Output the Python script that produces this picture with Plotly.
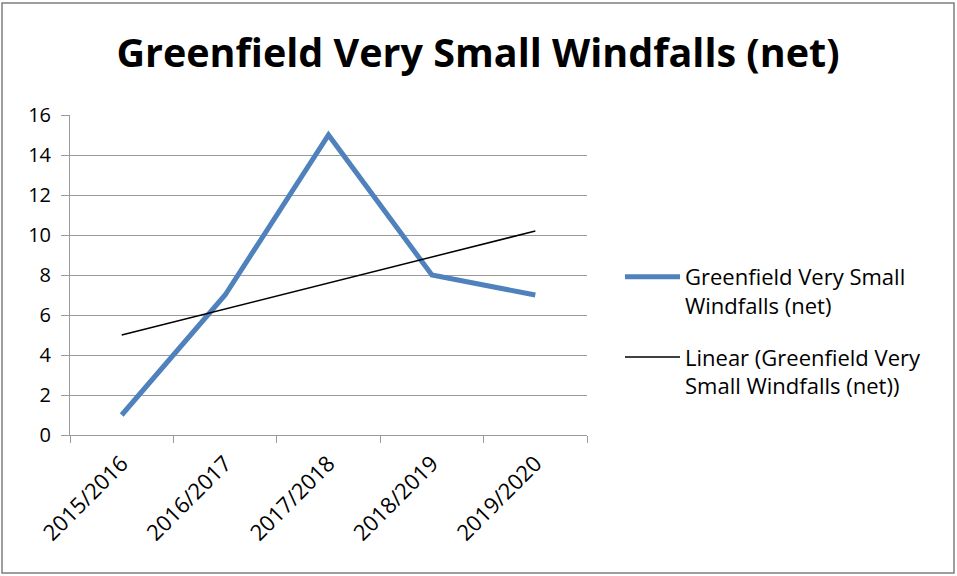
import numpy as np
import plotly.graph_objects as go

categories = ["2015/2016", "2016/2017", "2017/2018", "2018/2019", "2019/2020"]
values = [1, 7, 15, 8, 7]
y_ticks = [0, 2, 4, 6, 8, 10, 12, 14, 16]

series_name = "Greenfield Very Small<br>Windfalls (net)"
trend_name = "Linear (Greenfield Very<br>Small Windfalls (net))"

idx = np.arange(len(values))
slope, intercept = np.polyfit(idx, values, 1)
trend = slope * idx + intercept

FONT = "Open Sans, Lato, sans-serif"
GRID = "#9a9a9a"

fig = go.Figure()
fig.add_trace(go.Scatter(x=categories, y=values, mode="lines", name=series_name,
                         legendgroup="a",
                         line=dict(color="#4F81BD", width=5)))
fig.add_trace(go.Scatter(x=categories, y=trend, mode="lines", name=trend_name,
                         legendgroup="b",
                         line=dict(color="#000000", width=1.5)))

L, R, T, B = 70, 370, 115, 141
W, H = 957, 576
pw, ph = W - L - R, H - T - B

fig.update_layout(
    width=W, height=H,
    margin=dict(l=L, r=R, t=T, b=B),
    paper_bgcolor="white", plot_bgcolor="white",
    font=dict(family=FONT, size=19, color="#000000"),
    title=dict(text="<b>Greenfield Very Small Windfalls (net)</b>",
               x=478 / W, xanchor="center", y=1 - 53 / H, yanchor="middle",
               font=dict(size=39.5, family=FONT)),
    showlegend=True,
    legend=dict(x=(620 - L) / pw, xanchor="left", y=(435 - 256) / ph, yanchor="top",
                font=dict(size=22, family=FONT), itemwidth=55, valign="top",
                tracegroupgap=20, bgcolor="rgba(0,0,0,0)"),
    xaxis=dict(type="category", range=[-0.5, 4.5], tickson="boundaries",
               ticks="outside", ticklen=7, tickcolor=GRID, tickwidth=1,
               showline=True, linecolor=GRID, linewidth=1, ticklabelstandoff=6,
               showgrid=False, tickangle=-45, tickfont=dict(size=22), zeroline=False),
    yaxis=dict(range=[0, 16], tickvals=y_ticks, ticks="outside", ticklen=8,
               tickcolor=GRID, showline=True, linecolor=GRID,
               showgrid=True, gridcolor=GRID, gridwidth=1, zeroline=False,
               ticklabelstandoff=6, tickfont=dict(size=20)),
    shapes=[dict(type="rect", xref="paper", yref="paper",
                 x0=(2 - L) / pw, x1=(954 - L) / pw,
                 y0=(435 - 573) / ph, y1=(435 - 3) / ph,
                 line=dict(color="#7f7f7f", width=1.5), fillcolor="rgba(0,0,0,0)",
                 layer="below")],
)

fig.write_html("out.html", config={"displayModeBar": False},
               post_script="document.body.style.margin='0px';")
